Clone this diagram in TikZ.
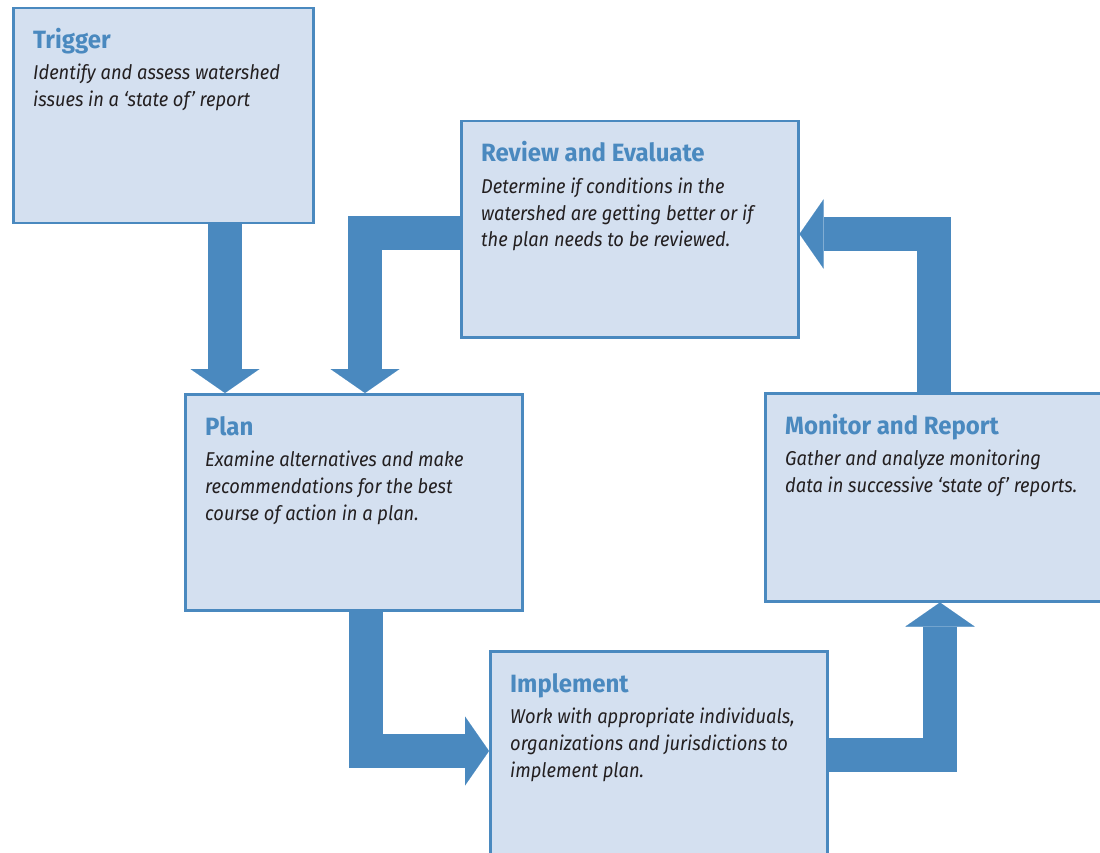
\documentclass[tikz,border=0pt]{standalone}
\usepackage{fontspec}
\setmainfont{Fira Sans}[FakeStretch=0.96]
\newfontfamily\bodyfont{Fira Sans}[FakeStretch=0.915]
\usetikzlibrary{arrows.meta,calc}
\definecolor{flowblue}{HTML}{4A89BF}
\definecolor{boxfill}{HTML}{D4E0F0}
\definecolor{bodytext}{HTML}{231F20}
\begin{document}
\begin{tikzpicture}[x=1pt,y=-1pt,
  stage/.style={draw=flowblue,line width=2.5pt,fill=boxfill,anchor=north west,inner sep=0pt},
  title/.style={anchor=base west,inner sep=0pt,text=flowblue,font=\fontsize{25}{27}\selectfont\bfseries},
  body/.style={anchor=base west,inner sep=0pt,align=left,text=bodytext,font=\bodyfont\fontsize{20}{27}\selectfont\itshape},
  flow/.style={draw=flowblue,line width=34pt,line cap=butt,line join=miter,
    -{Triangle[width=69pt,length=24pt,line width=0.01pt]}}]
\clip (0,0) rectangle (1100,853);

% stage boxes
\node[stage,minimum width=300pt,minimum height=215pt] (trig) at (12,7) {};
\node[stage,minimum width=337pt,minimum height=216pt] (rev) at (460,120) {};
\node[stage,minimum width=337pt,minimum height=216pt] (plan) at (184,393) {};
\node[stage,minimum width=350pt,minimum height=208pt] (mon) at (764,392) {};
\node[stage,minimum width=337pt,minimum height=230pt] (impl) at (489,650) {};

% guide positions for the flow arrows
\coordinate (xa) at (225,0);
\coordinate (xb) at (365,0);
\coordinate (yb) at (0,233);
\coordinate (xc) at (934,0);
\coordinate (yc) at (0,234);
\coordinate (xd) at (366,0);
\coordinate (yd) at (0,751);
\coordinate (xe) at (940,0);
\coordinate (ye) at (0,755);

% flow arrows
\draw[flow] (trig.south -| xa) -- (plan.north -| xa);
\draw[flow] (rev.west |- yb) -| (plan.north -| xb);
\draw[flow] (mon.north -| xc) |- (rev.east |- yc);
\draw[flow] (plan.south -| xd) |- (impl.west |- yd);
\draw[flow] (impl.east |- ye) -| (mon.south -| xe);

% texts (a body node's base is its last line)
\node[title] (trigT) at ($(trig.north west)+(21,42)$) {Trigger};
\node[body] (trigB) at ($(trig.north west)+(21,100)$) {Identify and assess watershed\\issues in a ‘state of’ report};

\node[title] (revT) at ($(rev.north west)+(21,42)$) {Review and Evaluate};
\node[body] (revB) at ($(rev.north west)+(21,127)$) {Determine if conditions in the\\watershed are getting better or if\\the plan needs to be reviewed.};

\node[title] (planT) at ($(plan.north west)+(21,42)$) {Plan};
\node[body] (planB) at ($(plan.north west)+(21,127)$) {Examine alternatives and make\\recommendations for the best\\course of action in a plan.};

\node[title] (monT) at ($(mon.north west)+(21,42)$) {Monitor and Report};
\node[body] (monB) at ($(mon.north west)+(21,100)$) {Gather and analyze monitoring\\data in successive ‘state of’ reports.};

\node[title] (implT) at ($(impl.north west)+(21,42)$) {Implement};
\node[body] (implB) at ($(impl.north west)+(21,127)$) {Work with appropriate individuals,\\organizations and jurisdictions to\\implement plan.};
\end{tikzpicture}
\end{document}
